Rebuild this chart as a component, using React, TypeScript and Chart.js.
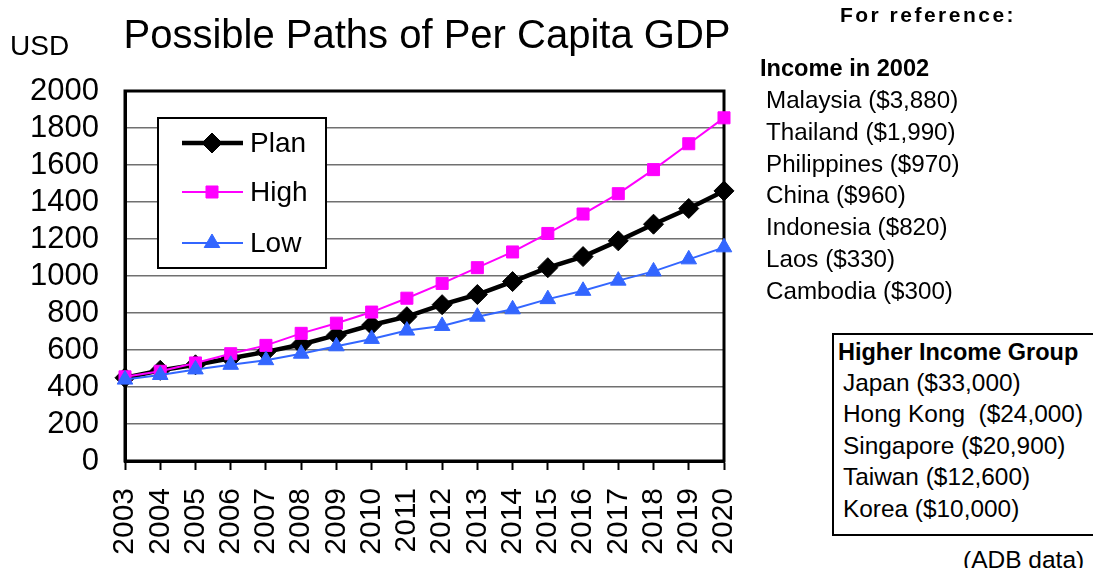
import React, { useEffect, useRef } from "react";
import { Chart, registerables } from "chart.js";
import { drawPoint } from "chart.js/helpers";

Chart.register(...registerables);

const years = ["2003","2004","2005","2006","2007","2008","2009","2010","2011","2012","2013","2014","2015","2016","2017","2018","2019","2020"];
const planValues = [450, 490, 520, 555, 590, 630, 680, 735, 780, 845, 900, 970, 1045, 1105, 1190, 1280, 1365, 1460];
const highValues = [455, 485, 530, 580, 625, 690, 745, 805, 880, 960, 1045, 1130, 1230, 1335, 1445, 1575, 1715, 1855];
const lowValues = [440, 465, 495, 520, 545, 580, 620, 660, 705, 730, 780, 820, 875, 920, 975, 1025, 1090, 1155];
const yTicks = [0, 200, 400, 600, 800, 1000, 1200, 1400, 1600, 1800, 2000];

const titleText = "Possible Paths of Per Capita GDP";
const unitText = "USD";
const refHeader = "For reference:";
const incomeHeader = "Income in 2002";
const incomeList = ["Malaysia ($3,880)", "Thailand ($1,990)", "Philippines ($970)", "China ($960)", "Indonesia ($820)", "Laos ($330)", "Cambodia ($300)"];
const higherHeader = "Higher Income Group";
const higherList = ["Japan ($33,000)", "Hong Kong  ($24,000)", "Singapore ($20,900)", "Taiwan ($12,600)", "Korea ($10,000)"];
const sourceText = "(ADB data)";

const FONT = "'Liberation Sans', Arial, Helvetica, sans-serif";

const framePlugin = {
  id: "frame",
  beforeDatasetsDraw(chart: any) {
    const { ctx, chartArea } = chart;
    ctx.save();
    ctx.strokeStyle = "#000";
    ctx.lineWidth = 3;
    ctx.strokeRect(chartArea.left, chartArea.top, chartArea.right - chartArea.left, chartArea.bottom - chartArea.top);
    ctx.restore();
  },
};

const legendPlugin = {
  id: "boxLegend",
  afterDatasetsDraw(chart: any) {
    const { ctx, chartArea } = chart;
    const left = chartArea.left + 33;
    const top = chartArea.top + 27;
    const w = 168;
    const h = 150;
    ctx.save();
    ctx.fillStyle = "#fff";
    ctx.fillRect(left, top, w, h);
    ctx.strokeStyle = "#000";
    ctx.lineWidth = 2;
    ctx.strokeRect(left, top, w, h);
    const rows = [25, 74, 125];
    chart.data.datasets.forEach((ds: any, i: number) => {
      const y = top + rows[i];
      ctx.strokeStyle = ds.borderColor;
      ctx.lineWidth = ds.borderWidth;
      ctx.beginPath();
      ctx.moveTo(left + 24, y);
      ctx.lineTo(left + 85, y);
      ctx.stroke();
      ctx.fillStyle = ds.pointBackgroundColor;
      ctx.strokeStyle = ds.pointBorderColor;
      ctx.lineWidth = 1;
      drawPoint(ctx, { pointStyle: ds.pointStyle, radius: ds.pointRadius, rotation: 0, borderWidth: 1 } as any, left + 54, y);
      ctx.fillStyle = "#000";
      ctx.font = `28px ${FONT}`;
      ctx.textBaseline = "middle";
      ctx.textAlign = "left";
      ctx.fillText(ds.label, left + 92, y + 1);
    });
    ctx.restore();
  },
};

const CANVAS_W = 778;

function ChartCanvas() {
  const ref = useRef<HTMLCanvasElement | null>(null);
  useEffect(() => {
    if (!ref.current) return;
    Chart.defaults.font.family = FONT;
    const chart = new Chart(ref.current, {
      type: "line",
      data: {
        labels: years,
        datasets: [
          {
            label: "Plan",
            data: planValues,
            borderColor: "#000000",
            backgroundColor: "#000000",
            pointBackgroundColor: "#000000",
            pointBorderColor: "#000000",
            borderWidth: 4.5,
            pointStyle: "rectRot",
            pointRadius: 10,
            pointBorderWidth: 1,
            order: 3,
            tension: 0,
          },
          {
            label: "High",
            data: highValues,
            borderColor: "#FF00FF",
            backgroundColor: "#FF00FF",
            pointBackgroundColor: "#FF00FF",
            pointBorderColor: "#FF00FF",
            borderWidth: 2,
            pointStyle: "rect",
            pointRadius: 8.5,
            pointBorderWidth: 1,
            order: 2,
            tension: 0,
          },
          {
            label: "Low",
            data: lowValues,
            borderColor: "#3366FF",
            backgroundColor: "#3366FF",
            pointBackgroundColor: "#3366FF",
            pointBorderColor: "#3366FF",
            borderWidth: 2,
            pointStyle: "triangle",
            pointRadius: 9,
            pointBorderWidth: 1,
            order: 1,
            tension: 0,
          },
        ] as any,
      },
      options: {
        responsive: false,
        maintainAspectRatio: false,
        animation: false,
        layout: { padding: { top: 91, left: 0, right: 0, bottom: 0 } },
        plugins: {
          legend: { display: false },
          title: { display: false },
          tooltip: { enabled: false },
        },
        scales: {
          x: {
            type: "category",
            offset: false,
            grid: {
              display: true,
              drawOnChartArea: false,
              drawTicks: true,
              tickLength: 9,
              tickWidth: 2,
              tickColor: "#000",
              offset: false,
            },
            border: { display: true, color: "#000", width: 3 },
            ticks: {
              autoSkip: false,
              maxRotation: 90,
              minRotation: 90,
              padding: 18,
              color: "#000",
              font: { size: 30, family: FONT },
            },
            afterFit: (scale: any) => {
              scale.height = 107;
            },
          },
          y: {
            min: 0,
            max: 2000,
            afterBuildTicks: (scale: any) => {
              scale.ticks = yTicks.map((v) => ({ value: v }));
            },
            grid: {
              color: "#707070",
              lineWidth: 1.5,
              drawTicks: false,
            },
            border: { display: true, color: "#000", width: 3 },
            ticks: {
              autoSkip: false,
              padding: 26,
              color: "#000",
              font: { size: 31, family: FONT, lineHeight: 1 },
              callback: (v: any) => String(v),
            },
            afterFit: (scale: any) => {
              scale.width = 125;
            },
          },
        },
      },
      plugins: [framePlugin, legendPlugin],
    });
    return () => chart.destroy();
  }, []);
  return <canvas ref={ref} width={CANVAS_W} height={568} style={{ position: "absolute", left: 0, top: 0, width: CANVAS_W, height: 568 }} />;
}

export default function App() {
  const base: React.CSSProperties = { position: "absolute", fontFamily: FONT, color: "#000", whiteSpace: "pre", margin: 0 };
  return (
    <div style={{ position: "absolute", left: 0, top: 0, width: 1093, height: 568, overflow: "hidden", background: "#fff" }}>
      <ChartCanvas />
      <div style={{ ...base, left: 0, width: 854, top: 14, fontSize: 40, lineHeight: "40px", textAlign: "center" }}>{titleText}</div>
      <div style={{ ...base, left: 10, top: 32, fontSize: 28, lineHeight: "28px" }}>{unitText}</div>
      <div style={{ ...base, left: 828, width: 200, top: 4, fontSize: 21, lineHeight: "22px", fontWeight: "bold", letterSpacing: 2.5, textAlign: "center" }}>{refHeader}</div>
      <div style={{ ...base, left: 760, top: 56, fontSize: 23.6, lineHeight: "24px", fontWeight: "bold" }}>{incomeHeader}</div>
      <div style={{ ...base, left: 766, top: 84 }}>
        {incomeList.map((t) => (
          <div key={t} style={{ fontSize: 24.2, lineHeight: "31.8px" }}>{t}</div>
        ))}
      </div>
      <div style={{ position: "absolute", left: 832, top: 333, width: 280, height: 199, border: "2px solid #000", boxSizing: "content-box" }} />
      <div style={{ ...base, left: 838, top: 340, fontSize: 23.5, lineHeight: "24px", fontWeight: "bold" }}>{higherHeader}</div>
      <div style={{ ...base, left: 843, top: 366.5 }}>
        {higherList.map((t) => (
          <div key={t} style={{ fontSize: 24.4, lineHeight: "31.5px" }}>{t}</div>
        ))}
      </div>
      <div style={{ ...base, left: 963, top: 548, fontSize: 24.5, lineHeight: "24px" }}>{sourceText}</div>
    </div>
  );
}
